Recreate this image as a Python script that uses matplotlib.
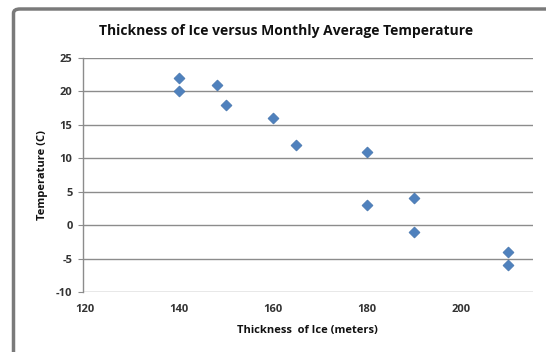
import matplotlib
matplotlib.use("Agg")
import matplotlib.pyplot as plt
from matplotlib.patches import FancyBboxPatch

thickness = [140, 140, 148, 150, 160, 165, 180, 180, 190, 190, 210, 210]
temperature = [22, 20, 21, 18, 16, 12, 11, 3, 4, -1, -4, -6]
x_ticks = [120, 140, 160, 180, 200]
y_ticks = [-10, -5, 0, 5, 10, 15, 20, 25]

W, H = 546, 352
fig = plt.figure(figsize=(W / 100, H / 100), dpi=100)
fig.patch.set_facecolor("white")

# outer chart frame
frame = FancyBboxPatch((13.5 / W, -0.2), 1.2, (H - 9) / H + 0.2,
                       boxstyle="round,pad=0,rounding_size=0.012",
                       transform=fig.transFigure, facecolor="white",
                       edgecolor="#7a7a7a", linewidth=2.5, zorder=-5)
fig.patches.append(frame)

left, right = 83 / W, 533 / W
top, bottom = 1 - 58 / H, 1 - 292 / H
ax = fig.add_axes([left, bottom, right - left, top - bottom])
ax.set_facecolor("none")
ax.set_zorder(2)

ax.scatter(thickness, temperature, marker="D", s=32, color="#4F81BD",
           edgecolors="#3f6fa8", linewidths=0.4, zorder=3, clip_on=False)

ax.set_xlim(119.6, 215.3)
ax.set_ylim(-10, 25)
ax.set_xticks(x_ticks)
ax.set_yticks(y_ticks)
ax.set_xticklabels([str(v) for v in x_ticks])
ax.set_yticklabels([str(v) for v in y_ticks])

ax.grid(axis="y", color="#8c8c8c", linewidth=1.0)
ax.set_axisbelow(True)
for s in ["top", "right", "bottom"]:
    ax.spines[s].set_visible(False)
ax.spines["left"].set_color("#8c8c8c")
ax.spines["left"].set_linewidth(1.0)
ax.tick_params(axis="y", length=3.5, color="#8c8c8c", labelsize=8, pad=4,
               labelcolor="#333333")
ax.tick_params(axis="x", length=0, labelsize=8, pad=9, labelcolor="#333333")
for lab in ax.get_xticklabels() + ax.get_yticklabels():
    lab.set_fontfamily("Open Sans")
    lab.set_fontweight("bold")

fig.text(286 / W, 1 - 31 / H, "Thickness of Ice versus Monthly Average Temperature",
         ha="center", va="center", fontsize=10, fontweight="bold",
         family="Open Sans", color="#111111")
fig.text(307 / W, 1 - 330 / H, "Thickness  of Ice (meters)",
         ha="center", va="center", fontsize=8, fontweight="bold",
         family="Open Sans", color="#111111")
fig.text(42 / W, 1 - 175 / H, "Temperature (C)", rotation=90,
         ha="center", va="center", fontsize=8, fontweight="bold",
         family="Open Sans", color="#111111")

fig.savefig("out.png", dpi=100)
